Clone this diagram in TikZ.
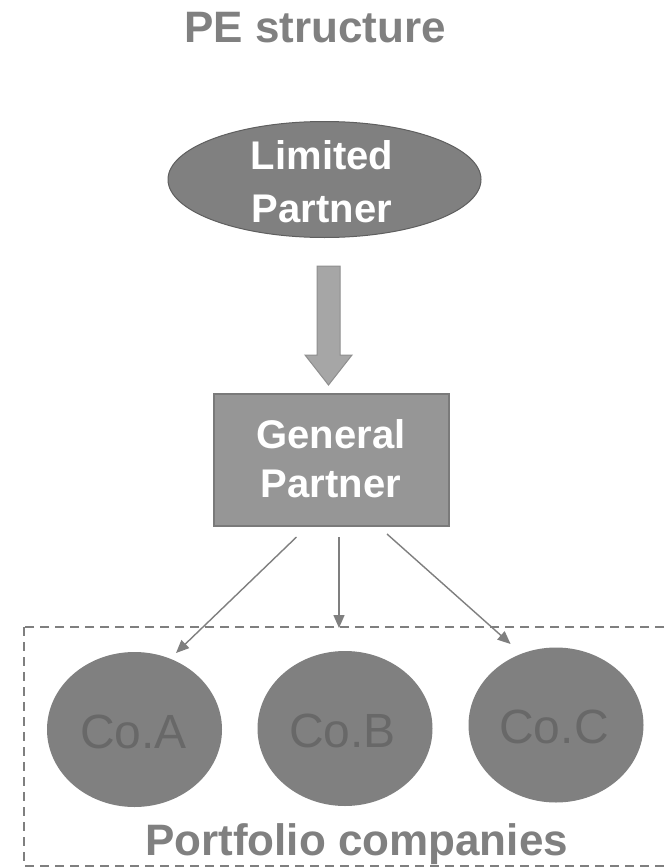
\documentclass[tikz,border=0pt]{standalone}
\usepackage{fontspec}
\setmainfont{Liberation Sans}
\usetikzlibrary{arrows.meta,shapes.geometric}
\definecolor{titlegray}{HTML}{808080}
\definecolor{shapegray}{HTML}{808080}
\definecolor{shapeedge}{HTML}{5F5F5F}
\definecolor{gpfill}{HTML}{969696}
\definecolor{gpedge}{HTML}{7A7A7A}
\definecolor{barrfill}{HTML}{A6A6A6}
\definecolor{barredge}{HTML}{8E8E8E}
\definecolor{cotext}{HTML}{686868}
\definecolor{linegray}{HTML}{7F7F7F}
\tikzset{
  boldtxt/.style={font=\fontsize{40}{48}\selectfont\bfseries, text=white, anchor=base, inner sep=0pt},
  bigtitle/.style={font=\fontsize{44}{52}\selectfont\bfseries, text=titlegray, anchor=base, inner sep=0pt},
  cotxt/.style={font=\fontsize{48}{56}\selectfont, text=cotext, anchor=base, inner sep=0pt},
  coshape/.style={ellipse, fill=shapegray, draw=none, minimum width=175pt, minimum height=155pt, inner sep=0pt},
  conn/.style={draw=linegray, line width=1.4pt, -{Triangle[length=13pt,width=11pt]}},
}
\begin{document}
\begin{tikzpicture}[x=1pt,y=-1pt]
\useasboundingbox (0,0) rectangle (669,867);
\clip (0,0) rectangle (669,867);
\fill[white] (0,0) rectangle (669,867);

% title
\node[bigtitle] (title) at (315,43) {PE structure};

% limited partner ellipse
\node[ellipse, fill=shapegray, draw=shapeedge, line width=1pt, minimum width=313pt, minimum height=116pt, inner sep=0pt] (lp) at (324.5,179.5) {};
\node[boldtxt] (lpt1) at (322,169) {Limited};
\node[boldtxt] (lpt2) at (322,222) {Partner};

% block arrow
\coordinate (ba1) at (317,266);
\coordinate (ba2) at (340,266);
\coordinate (ba3) at (340,355);
\coordinate (ba4) at (352,355);
\coordinate (ba5) at (328.5,385);
\coordinate (ba6) at (305,355);
\coordinate (ba7) at (317,355);
\draw[fill=barrfill, draw=barredge, line width=1pt] (ba1) -- (ba2) -- (ba3) -- (ba4) -- (ba5) -- (ba6) -- (ba7) -- cycle;

% general partner
\node[rectangle, fill=gpfill, draw=gpedge, line width=1.2pt, minimum width=235pt, minimum height=132pt, inner sep=0pt] (gp) at (331.5,460) {};
\node[boldtxt] (gpt1) at (331,448) {General};
\node[boldtxt] (gpt2) at (331,497) {Partner};

% portfolio dashed box
\coordinate (pb1) at (24,627);
\coordinate (pb2) at (690,866);
\draw[draw=linegray, line width=1.2pt, dash pattern=on 9pt off 6pt] (pb1) rectangle (pb2);

% companies
\node[coshape] (coa) at (134.5,729.5) {};
\node[coshape] (cob) at (345,728.5) {};
\node[coshape] (coc) at (556,725) {};
\node[cotxt] (coat) at (133.5,748) {Co.A};
\node[cotxt] (cobt) at (342.5,747) {Co.B};
\node[cotxt] (coct) at (554,743) {Co.C};

% connectors
\coordinate (sA) at (296.5,537);
\coordinate (eA) at (176,653);
\coordinate (sB) at (339,537);
\coordinate (eB) at (339,628);
\coordinate (sC) at (387,534);
\coordinate (eC) at (510.6,644);
\draw[conn] (sA) -- (eA);
\draw[conn] (sB) -- (eB);
\draw[conn] (sC) -- (eC);

% portfolio label
\node[bigtitle] (plabel) at (356.5,855) {Portfolio companies};
\end{tikzpicture}
\end{document}
